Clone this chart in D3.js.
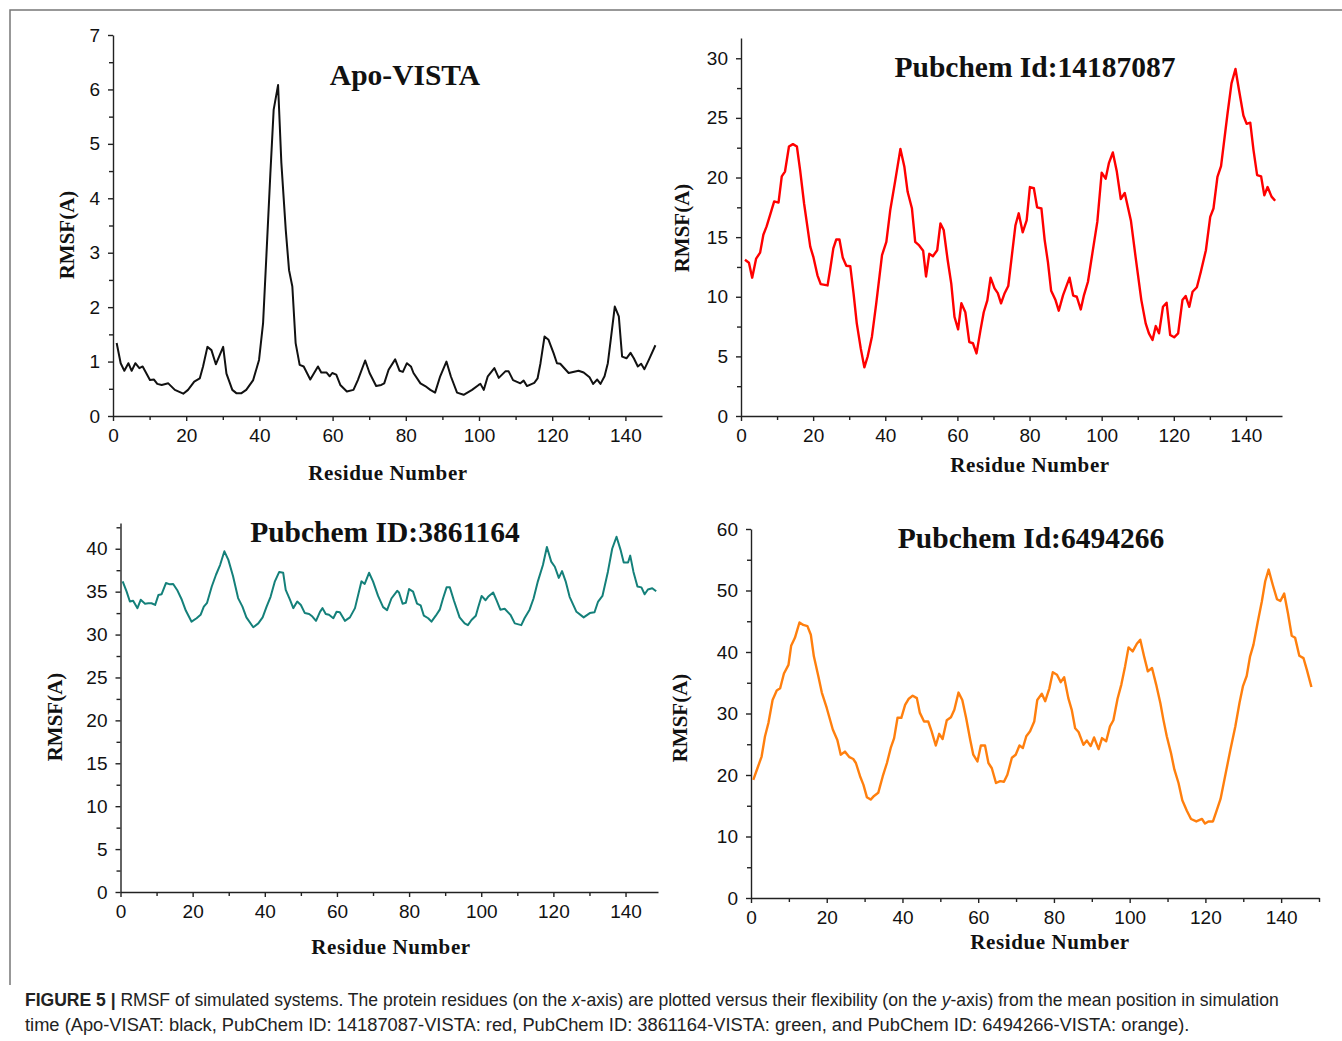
<!DOCTYPE html>
<html>
<head>
<meta charset="utf-8">
<script src="https://cdn.jsdelivr.net/npm/d3@7"></script>
<style>
  body { margin: 0; background: #fff; }
  svg { display: block; }
</style>
</head>
<body>
<div id="chart"></div>
<script>
// RMSF curves (residue number, RMSF)
const residuesApo = [1.0,2.1,3.1,4.2,5.1,6.1,7.2,8.1,10.1,11.2,12.1,13.3,15.1,16.9,19.2,20.5,22.2,23.7,24.6,25.8,26.9,28.1,30.1,31.0,32.6,33.7,35.1,36.4,38.3,39.9,41.0,41.9,43.0,43.9,45.1,46.0,47.2,48.1,49.0,49.9,51.0,52.1,53.9,56.0,56.9,58.3,59.2,59.9,61.0,62.1,63.9,65.7,66.9,68.9,70.1,71.9,73.3,74.1,75.3,77.1,78.3,79.2,80.3,81.4,82.1,84.0,85.3,86.7,88.0,89.4,91.1,92.3,94.0,95.8,98.1,99.9,100.4,101.3,102.4,104.2,105.4,107.2,108.1,109.3,111.3,112.2,113.1,115.1,116.0,116.8,117.9,119.0,120.4,121.3,122.2,124.5,127.2,128.6,130.2,131.2,132.3,133.2,134.3,135.2,136.1,137.1,138.2,139.1,140.3,141.4,142.3,143.4,144.3,145.2,146.4,148.2];
const rmsfApo = [1.34,0.97,0.83,0.97,0.83,0.97,0.88,0.91,0.66,0.67,0.59,0.57,0.60,0.48,0.41,0.48,0.63,0.69,0.91,1.27,1.21,0.95,1.27,0.78,0.48,0.42,0.42,0.48,0.66,1.03,1.70,2.93,4.46,5.63,6.08,4.65,3.42,2.68,2.38,1.34,0.94,0.91,0.67,0.91,0.80,0.80,0.73,0.79,0.76,0.57,0.45,0.48,0.66,1.02,0.79,0.55,0.57,0.60,0.85,1.04,0.83,0.81,0.97,0.91,0.79,0.60,0.55,0.48,0.43,0.73,1.00,0.73,0.43,0.39,0.48,0.57,0.59,0.48,0.73,0.88,0.70,0.82,0.82,0.66,0.60,0.65,0.55,0.61,0.69,0.97,1.46,1.40,1.15,0.97,0.96,0.79,0.83,0.80,0.71,0.59,0.67,0.59,0.73,0.97,1.46,2.01,1.83,1.09,1.06,1.16,1.06,0.91,0.96,0.86,1.03,1.30];

const residues14187087 = [1.1,2.2,3.1,4.2,5.3,6.2,7.1,8.2,9.2,10.4,11.3,12.2,13.3,14.4,15.5,16.4,17.5,19.2,20.1,21.2,22.1,24.0,24.7,25.6,26.4,27.3,28.2,29.2,30.3,31.2,32.1,33.2,34.2,35.1,36.3,37.5,39.1,40.3,41.4,42.8,44.2,45.3,46.2,47.4,48.3,49.4,50.5,51.3,52.2,53.2,54.4,55.3,56.2,57.3,58.3,59.2,60.2,61.1,62.2,63.3,64.3,65.3,66.4,67.3,68.3,69.2,70.3,71.2,72.1,73.1,74.1,76.1,77.0,78.1,79.2,80.1,81.2,82.1,83.3,84.2,85.1,86.0,87.2,88.1,89.3,91.1,92.1,93.1,94.2,95.1,96.2,97.4,98.8,100.0,101.1,102.0,103.1,104.2,105.3,106.4,108.1,109.4,111.0,112.2,113.1,114.1,115.0,115.9,117.0,118.0,119.0,120.1,121.2,122.4,123.3,124.3,125.2,126.4,127.5,128.9,130.1,131.0,132.1,133.1,134.9,136.0,137.1,138.1,139.3,140.2,141.2,142.1,143.1,144.2,145.1,146.0,147.1,148.1];
const rmsf14187087 = [13.1,12.85,11.6,13.2,13.7,15.2,15.9,17.0,18.0,17.9,20.1,20.5,22.6,22.8,22.6,20.6,17.8,14.2,13.3,11.8,11.06,10.95,12.24,14.06,14.8,14.8,13.3,12.6,12.56,10.3,7.77,5.67,4.08,4.97,6.65,9.45,13.5,14.6,17.3,19.8,22.4,20.9,18.8,17.4,14.6,14.3,13.86,11.7,13.6,13.4,13.9,16.15,15.6,13.08,11.1,8.3,7.27,9.45,8.7,6.2,6.1,5.25,7.2,8.7,9.7,11.6,10.7,10.3,9.45,10.3,10.9,16.0,17.0,15.4,16.4,19.2,19.1,17.5,17.4,14.75,12.9,10.5,9.72,8.83,10.14,11.6,10.1,10.0,8.94,10.14,11.26,13.6,16.3,20.4,19.9,21.2,22.1,20.5,18.2,18.7,16.4,13.35,9.72,7.77,6.93,6.37,7.54,6.93,9.16,9.5,6.79,6.6,6.93,9.72,10.06,9.16,10.42,10.8,12.1,13.9,16.7,17.4,20.06,20.96,25.37,27.9,29.1,27.3,25.2,24.5,24.6,22.3,20.2,20.1,18.5,19.2,18.4,18.05];

const residues3861164 = [0.6,1.7,2.6,3.5,4.7,5.6,6.8,7.7,8.6,9.6,10.5,11.4,12.6,13.7,14.6,15.7,17.0,18.1,19.7,21.1,22.2,23.1,24.0,25.3,26.5,27.6,28.8,29.9,31.2,32.6,33.8,34.9,36.8,38.2,39.4,40.5,41.6,42.8,44.0,45.1,45.8,47.0,47.9,49.0,50.0,51.1,52.3,53.2,54.2,55.3,56.0,56.9,57.8,59.0,59.9,60.8,62.2,63.6,65.0,66.8,67.7,68.9,70.0,71.4,72.8,73.9,75.1,76.7,77.2,78.2,79.1,80.0,81.1,82.2,83.2,84.1,85.3,86.2,87.4,88.5,89.4,90.4,91.3,92.4,94.0,95.4,96.3,97.3,98.5,99.1,100.1,101.2,101.9,103.3,104.2,105.3,106.5,108.1,109.3,111.1,112.0,113.4,114.5,115.7,117.1,118.2,119.4,120.4,121.5,122.4,123.4,124.5,126.4,128.4,130.1,131.4,132.4,133.6,135.1,136.3,137.5,138.6,139.5,140.7,141.3,142.2,143.3,144.4,145.3,146.2,147.4,148.5];
const rmsf3861164 = [36.2,35.0,33.85,33.95,33.08,34.05,33.6,33.65,33.65,33.45,34.6,34.7,36.0,35.85,35.9,35.2,34.05,32.8,31.5,31.9,32.3,33.25,33.7,35.6,37.0,38.1,39.7,38.7,36.8,34.25,33.25,32.0,30.85,31.3,32.0,33.25,34.4,36.2,37.3,37.2,35.2,34.05,33.08,33.85,33.45,32.5,32.4,32.1,31.6,32.65,33.08,32.4,32.3,31.9,32.65,32.6,31.6,32.0,33.08,36.2,35.9,37.2,36.2,34.5,33.2,32.85,34.2,35.1,34.9,33.6,33.7,35.3,35.0,33.6,33.4,32.2,31.9,31.5,32.2,32.9,34.2,35.5,35.5,34.0,32.0,31.3,31.1,31.7,32.2,33.1,34.5,34.0,34.4,34.9,34.05,32.9,33.0,32.3,31.3,31.1,31.9,32.9,34.2,36.2,38.1,40.2,38.5,37.9,36.6,37.4,36.2,34.4,32.65,32.0,32.5,32.6,33.85,34.5,37.3,40.0,41.4,39.9,38.4,38.4,39.2,37.3,35.6,35.5,34.7,35.25,35.4,35.05];

const residues6494266 = [0.6,1.7,2.8,3.7,4.6,5.7,6.8,7.7,8.7,9.9,10.6,11.6,12.8,13.8,14.9,15.8,16.6,17.8,18.7,20.0,21.6,22.8,23.7,24.8,26.0,27.0,27.7,28.8,29.7,30.6,31.6,32.5,33.6,34.8,35.9,36.9,37.8,38.7,39.7,40.7,41.6,42.7,43.8,44.6,45.7,46.8,47.7,48.8,49.7,50.6,51.7,52.8,53.7,54.8,55.8,56.8,57.9,58.7,59.8,60.7,61.8,62.7,63.6,64.7,65.8,66.8,67.7,68.9,69.9,70.9,71.8,72.7,73.7,74.8,75.6,76.8,77.7,78.8,79.7,80.8,81.8,82.7,83.8,84.7,85.6,86.5,87.8,88.7,89.7,90.6,91.8,92.7,93.8,94.8,95.7,96.8,97.8,98.8,99.7,100.8,101.9,102.8,103.8,104.8,105.9,107.0,108.1,108.9,109.8,110.9,111.8,112.9,113.9,115.1,116.2,117.6,119.1,119.9,120.8,122.0,122.9,124.0,125.2,126.6,127.9,129.0,129.9,130.9,131.8,132.7,133.8,134.9,135.8,136.7,137.8,138.9,139.8,140.8,141.8,142.8,143.7,144.8,145.9,146.8,148.0];
const rmsf6494266 = [19.2,21.1,23.0,26.3,28.45,32.2,33.75,34.1,36.5,37.9,41.0,42.3,44.8,44.4,44.2,42.8,39.3,36.0,33.4,30.9,27.4,25.7,23.3,23.8,22.9,22.6,21.95,19.8,18.4,16.4,16.0,16.6,17.1,19.8,21.95,24.4,26.0,29.3,29.3,31.4,32.35,32.9,32.5,30.1,28.7,28.7,27.1,24.8,26.7,25.85,28.9,29.4,30.6,33.4,32.2,29.3,25.7,23.3,22.2,24.8,24.8,21.95,21.1,18.7,19.0,18.9,20.05,22.8,23.3,24.8,24.4,26.3,27.1,28.7,32.2,33.2,32.0,34.1,36.7,36.3,35.1,35.9,32.5,30.6,27.6,27.0,24.9,25.6,24.7,26.1,24.2,26.0,25.5,27.9,28.9,32.4,34.7,37.7,40.75,40.1,41.35,42.0,39.3,36.85,37.4,34.7,31.7,29.0,26.3,23.6,20.9,18.7,15.9,14.2,12.85,12.45,12.85,12.1,12.45,12.45,14.1,16.1,19.8,24.1,27.9,31.7,34.4,36.1,39.3,41.2,44.8,48.2,51.5,53.4,50.9,48.6,48.3,49.5,46.3,42.65,42.3,39.4,39.0,37.1,34.3];

// tick values
const xTicks = [0, 20, 40, 60, 80, 100, 120, 140];
const xMinorTicks = [10, 30, 50, 70, 90, 110, 130];
const yTicksApo = [0, 1, 2, 3, 4, 5, 6, 7];
const yTicks14187087 = [0, 5, 10, 15, 20, 25, 30];
const yTicks3861164 = [0, 5, 10, 15, 20, 25, 30, 35, 40];
const yTicks6494266 = [0, 10, 20, 30, 40, 50, 60];

const titles = ["Apo-VISTA", "Pubchem Id:14187087", "Pubchem ID:3861164", "Pubchem Id:6494266"];
const lineColors = ["#111111", "#ff0000", "#14807a", "#ff7f0e"];

const width = 1342, height = 1041;
const svg = d3.select("#chart").append("svg")
    .attr("width", width)
    .attr("height", height);

// frame lines of the figure
svg.append("path")
    .attr("d", "M10,985V10H1342")
    .attr("fill", "none")
    .attr("stroke", "#777")
    .attr("stroke-width", 1.5);

const panels = [
    {x: residuesApo, y: rmsfApo, yTicks: yTicksApo, yMinor: d3.range(0.5, 7, 1),
     xMax: 150, yMax: 7, box: [113, 662, 35, 416], xExtra: [],
     title: [405, 75], yLab: [67, 235], xLab: [388, 473], lw: 2},
    {x: residues14187087, y: rmsf14187087, yTicks: yTicks14187087, yMinor: d3.range(2.5, 30, 5),
     xMax: 150, yMax: 31.7, box: [741, 1282, 38, 416], xExtra: [],
     title: [1035, 67], yLab: [682, 228], xLab: [1030, 465], lw: 2.4},
    {x: residues3861164, y: rmsf3861164, yTicks: yTicks3861164, yMinor: d3.range(2.5, 43, 5),
     xMax: 149, yMax: 43, box: [120.5, 658, 523, 892], xExtra: [],
     title: [385, 532], yLab: [55, 717], xLab: [391, 947], lw: 2},
    {x: residues6494266, y: rmsf6494266, yTicks: yTicks6494266, yMinor: d3.range(5, 60, 10),
     xMax: 150, yMax: 60, box: [751, 1319, 529, 898], xExtra: [150],
     title: [1031, 538], yLab: [680, 718], xLab: [1050, 942], lw: 2.4}
];

panels.forEach((p, i) => {
    const [left, right, top, bottom] = p.box;
    const x = d3.scaleLinear().domain([0, p.xMax]).range([left, right]);
    const y = d3.scaleLinear().domain([0, p.yMax]).range([bottom, top]);
    const g = svg.append("g");

    // minor ticks
    g.append("g")
        .attr("transform", `translate(0,${bottom})`)
        .call(d3.axisBottom(x).tickValues(xMinorTicks.concat(p.xExtra)).tickSize(4).tickFormat(""))
        .call(a => a.select(".domain").remove());
    g.append("g")
        .attr("transform", `translate(${left},0)`)
        .call(d3.axisLeft(y).tickValues(p.yMinor).tickSize(4).tickFormat(""))
        .call(a => a.select(".domain").remove());

    // major axes
    g.append("g")
        .attr("transform", `translate(0,${bottom})`)
        .call(d3.axisBottom(x).tickValues(xTicks).tickSize(5).tickSizeOuter(0).tickPadding(8));
    g.append("g")
        .attr("transform", `translate(${left},0)`)
        .call(d3.axisLeft(y).tickValues(p.yTicks).tickFormat(d3.format("d"))
            .tickSize(5).tickSizeOuter(0).tickPadding(8));

    g.selectAll(".tick line, .domain")
        .attr("stroke", "#222")
        .attr("stroke-width", 1.4);
    g.selectAll(".tick text")
        .attr("font-family", "'Liberation Sans', Arial, sans-serif")
        .attr("font-size", 19)
        .attr("fill", "#111");

    // curve
    const pts = p.x.map((r, k) => [r, p.y[k]]);
    g.append("path")
        .datum(pts)
        .attr("fill", "none")
        .attr("stroke", lineColors[i])
        .attr("stroke-width", p.lw)
        .attr("stroke-linejoin", "round")
        .attr("d", d3.line().x(d => x(d[0])).y(d => y(d[1])));

    // texts
    g.append("text")
        .attr("x", p.title[0]).attr("y", p.title[1])
        .attr("dy", "0.35em")
        .attr("text-anchor", "middle")
        .attr("font-family", "'Liberation Serif', 'Times New Roman', serif")
        .attr("font-weight", "bold")
        .attr("font-size", 29.5)
        .attr("fill", "#111")
        .text(titles[i]);

    g.append("text")
        .attr("x", p.xLab[0])
        .attr("y", p.xLab[1])
        .attr("dy", "0.35em")
        .attr("text-anchor", "middle")
        .attr("font-family", "'Liberation Serif', 'Times New Roman', serif")
        .attr("font-weight", "bold")
        .attr("font-size", 21)
        .attr("letter-spacing", 0.6)
        .attr("fill", "#111")
        .text("Residue Number");

    g.append("text")
        .attr("transform", `translate(${p.yLab[0]},${p.yLab[1]}) rotate(-90)`)
        .attr("dy", "0.35em")
        .attr("text-anchor", "middle")
        .attr("font-family", "'Liberation Serif', 'Times New Roman', serif")
        .attr("font-weight", "bold")
        .attr("font-size", 21)
        .attr("fill", "#111")
        .text("RMSF(A)");
});

// caption, squeezed to the width of the original lines
function captionLine(y, targetW, parts) {
    const t = svg.append("text")
        .attr("x", 25).attr("y", y)
        .attr("font-family", "'Liberation Sans', Arial, sans-serif")
        .attr("font-size", 18)
        .attr("fill", "#222");
    parts.forEach(([s, style]) => {
        const sp = t.append("tspan").text(s);
        if (style === "b") sp.attr("font-weight", "bold");
        if (style === "i") sp.attr("font-style", "italic");
    });
    const w = t.node().getComputedTextLength();
    t.attr("transform", `translate(25,0) scale(${targetW / w},1) translate(-25,0)`);
}
captionLine(1006, 1255, [["FIGURE 5 | ", "b"], ["RMSF of simulated systems. The protein residues (on the "], ["x", "i"],
    ["-axis) are plotted versus their flexibility (on the "], ["y", "i"], ["-axis) from the mean position in simulation"]]);
captionLine(1031, 1165, [["time (Apo-VISAT: black, PubChem ID: 14187087-VISTA: red, PubChem ID: 3861164-VISTA: green, and PubChem ID: 6494266-VISTA: orange)."]]);
</script>
</body>
</html>
